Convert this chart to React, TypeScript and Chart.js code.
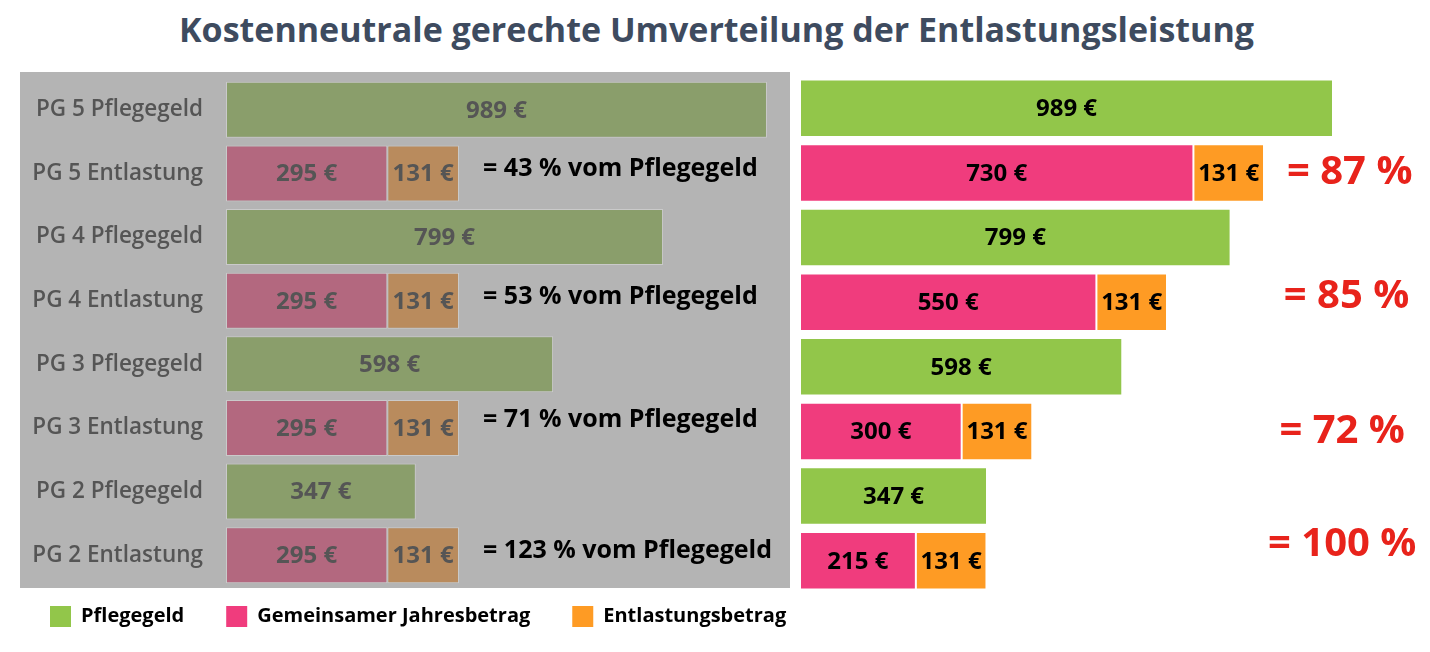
import React, { useEffect, useRef } from "react";
import { Chart, registerables } from "chart.js";

Chart.register(...registerables);

const FONT = "'Open Sans', 'DejaVu Sans', sans-serif";

const titleText = "Kostenneutrale gerechte Umverteilung der Entlastungsleistung";

const categories = [
  "PG 5 Pflegegeld",
  "PG 5 Entlastung",
  "PG 4 Pflegegeld",
  "PG 4 Entlastung",
  "PG 3 Pflegegeld",
  "PG 3 Entlastung",
  "PG 2 Pflegegeld",
  "PG 2 Entlastung",
];

const seriesNames = ["Pflegegeld", "Gemeinsamer Jahresbetrag", "Entlastungsbetrag"];

// left panel (heute)
const pflegegeld = [989, null, 799, null, 598, null, 347, null];
const gemeinsamHeute = [null, 295, null, 295, null, 295, null, 295];
const entlastung = [null, 131, null, 131, null, 131, null, 131];

// right panel (Umverteilung)
const gemeinsamNeu = [null, 730, null, 550, null, 300, null, 215];

const noteRows = [1, 3, 5, 7];
const leftNotes = [
  "= 43 % vom Pflegegeld",
  "= 53 % vom Pflegegeld",
  "= 71 % vom Pflegegeld",
  "= 123 % vom Pflegegeld",
];
const rightNotes = ["= 87 %", "= 85 %", "= 72 %", "= 100 %"];

const brightColors = ["#92c64a", "#f03c7d", "#fe9b24"];
const fadedColors = ["#8a9e6b", "#b3687f", "#b98b5d"];

const makeBarLabels = (color: string) => ({
  id: "barLabels",
  afterDatasetsDraw(chart: any) {
    const ctx = chart.ctx;
    ctx.save();
    ctx.font = `bold 24px ${FONT}`;
    ctx.fillStyle = color;
    ctx.textAlign = "center";
    ctx.textBaseline = "middle";
    chart.data.datasets.forEach((ds: any, di: number) => {
      const meta = chart.getDatasetMeta(di);
      meta.data.forEach((el: any, i: number) => {
        const v = ds.data[i];
        if (v == null) return;
        const p = el.getProps(["x", "base", "y"], true);
        ctx.fillText(`${v} €`, (p.x + p.base) / 2, p.y + 1);
      });
    });
    ctx.restore();
  },
});

const makeNotes = (
  texts: string[],
  xValues: number[],
  yOffsets: number[],
  font: string,
  color: string,
  align: CanvasTextAlign
) => ({
  id: "notes",
  afterDatasetsDraw(chart: any) {
    const { ctx, scales } = chart;
    ctx.save();
    ctx.font = font;
    ctx.fillStyle = color;
    ctx.textAlign = align;
    ctx.textBaseline = "middle";
    texts.forEach((t, k) => {
      const px = scales.x.getPixelForValue(xValues[k]);
      const py = scales.y.getPixelForValue(noteRows[k]) + yOffsets[k];
      ctx.fillText(t, px, py);
    });
    ctx.restore();
  },
});

const grayPanel = {
  id: "grayPanel",
  beforeDraw(chart: any) {
    const { ctx, chartArea } = chart;
    ctx.save();
    ctx.fillStyle = "#b4b4b4";
    ctx.fillRect(12, 0, 770, chartArea.bottom + 1);
    ctx.restore();
  },
};

const legendShift = {
  id: "legendShift",
  afterLayout(chart: any) {
    const l = chart.legend;
    if (l) {
      l.top -= 23;
      l.bottom -= 23;
    }
  },
};

const barDataset = (label: string, data: (number | null)[], color: string) => ({
  label,
  data,
  backgroundColor: color,
  borderColor: "rgba(255,255,255,0.3)",
  borderWidth: 1,
  borderSkipped: false,
});

export default function App() {
  const leftRef = useRef<HTMLCanvasElement>(null);
  const rightRef = useRef<HTMLCanvasElement>(null);

  useEffect(() => {
    const left = new Chart(leftRef.current!, {
      type: "bar",
      data: {
        labels: categories,
        datasets: [
          barDataset(seriesNames[0], pflegegeld, fadedColors[0]),
          barDataset(seriesNames[1], gemeinsamHeute, fadedColors[1]),
          barDataset(seriesNames[2], entlastung, fadedColors[2]),
        ] as any,
      },
      options: {
        indexAxis: "y",
        responsive: false,
        animation: false,
        layout: { padding: { top: 6, bottom: 0, left: 0, right: 0 } },
        datasets: { bar: { barPercentage: 0.88, categoryPercentage: 1 } },
        scales: {
          x: { stacked: true, min: 0, max: 1192, display: false },
          y: {
            stacked: true,
            grid: { display: false, drawTicks: false },
            border: { display: false },
            ticks: {
              padding: 23,
              color: "#555555",
              font: { family: FONT, size: 22.5, weight: 600 as any },
            },
            afterFit: (s: any) => {
              s.width = 218;
              s.paddingTop = 0;
              s.paddingBottom = 0;
            },
          },
        },
        plugins: {
          tooltip: { enabled: false },
          legend: {
            position: "bottom",
            align: "start",
            labels: {
              boxWidth: 21,
              boxHeight: 21,
              padding: 42,
              color: "#000000",
              font: { family: FONT, size: 20, weight: "bold" },
              generateLabels: () =>
                seriesNames.map((t, i) => ({
                  text: t,
                  fillStyle: brightColors[i],
                  strokeStyle: brightColors[i],
                  lineWidth: 0,
                  hidden: false,
                  datasetIndex: i,
                })),
            },
          },
        },
      } as any,
      plugins: [
        grayPanel,
        legendShift,
        makeBarLabels("#555555"),
        makeNotes(leftNotes, [470, 470, 470, 470], [-5, -4, -8, -4], `bold 25px ${FONT}`, "#000000", "left"),
      ],
    });

    const right = new Chart(rightRef.current!, {
      type: "bar",
      data: {
        labels: categories,
        datasets: [
          barDataset(seriesNames[0], pflegegeld, brightColors[0]),
          barDataset(seriesNames[1], gemeinsamNeu, brightColors[1]),
          barDataset(seriesNames[2], entlastung, brightColors[2]),
        ] as any,
      },
      options: {
        indexAxis: "y",
        responsive: false,
        animation: false,
        layout: { padding: 0 },
        datasets: { bar: { barPercentage: 0.89, categoryPercentage: 1 } },
        scales: {
          x: { stacked: true, min: 0, max: 1169, display: false },
          y: { stacked: true, display: false },
        },
        plugins: {
          tooltip: { enabled: false },
          legend: { display: false },
        },
      } as any,
      plugins: [
        makeBarLabels("#000000"),
        makeNotes(rightNotes, [1020, 1014, 1006, 1006], [0, -6, 0, -16], `bold 40px ${FONT}`, "#e8231b", "center"),
      ],
    });

    return () => {
      left.destroy();
      right.destroy();
    };
  }, []);

  return (
    <div
      style={{
        position: "absolute",
        left: 0,
        top: 0,
        width: 1430,
        height: 652,
        overflow: "hidden",
        background: "#ffffff",
      }}
    >
      <div
        style={{
          position: "absolute",
          left: 0,
          top: 6,
          width: 1433,
          textAlign: "center",
          font: `bold 34px/46px ${FONT}`,
          color: "#3e4b5f",
          whiteSpace: "nowrap",
        }}
      >
        {titleText}
      </div>
      <canvas ref={leftRef} width={870} height={588} style={{ position: "absolute", left: 8, top: 72 }} />
      <canvas ref={rightRef} width={630} height={517} style={{ position: "absolute", left: 800, top: 76 }} />
    </div>
  );
}
